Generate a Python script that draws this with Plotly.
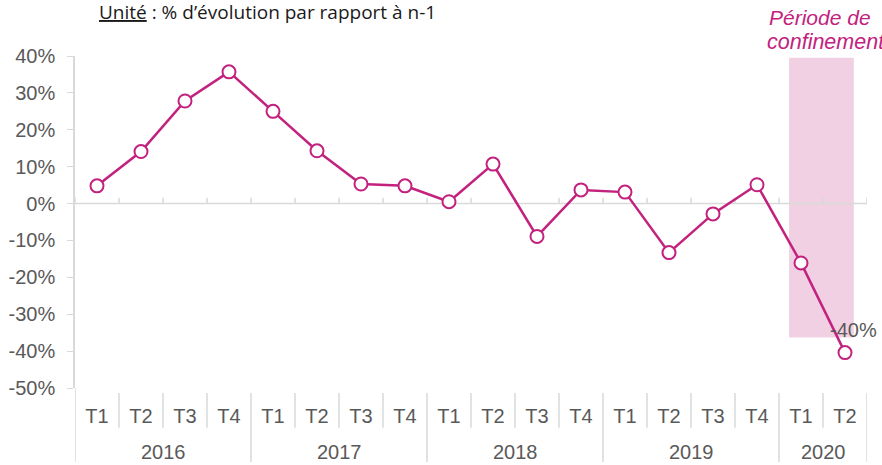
import plotly.graph_objects as go

YEARS = ["2016"] * 4 + ["2017"] * 4 + ["2018"] * 4 + ["2019"] * 4 + ["2020"] * 2
QUARTERS = ["T1", "T2", "T3", "T4"] * 4 + ["T1", "T2"]
EVOLUTION = [4.8, 14.1, 27.8, 35.7, 25.0, 14.3, 5.3, 4.8, 0.5, 10.7, -8.9, 3.7,
             3.1, -13.3, -2.8, 5.1, -16.1, -40.4]
Y_TICKS = [40, 30, 20, 10, 0, -10, -20, -30, -40, -50]

MAGENTA = "#c2227e"
GREY = "#595959"
AXIS = "#d9d9d9"
FONT = "Liberation Sans, Arial, sans-serif"

keys = [f"{y} {q}" for y, q in zip(YEARS, QUARTERS)]
n = len(keys)

fig = go.Figure()
fig.add_scatter(
    x=keys,
    y=EVOLUTION,
    mode="lines+markers",
    line=dict(color=MAGENTA, width=2.5),
    marker=dict(size=13, color="white", line=dict(color=MAGENTA, width=2)),
    showlegend=False,
)

# période de confinement
fig.add_shape(type="rect", xref="x", yref="y", x0=15.73, x1=17.2, y0=-36.3, y1=39.5,
              fillcolor="#f0d0e2", line_width=0, layer="below")
# axe horizontal à 0 avec graduations vers le haut
fig.add_shape(type="line", xref="x", yref="y", x0=-0.5, x1=n - 0.5, y0=0, y1=0,
              line=dict(color=AXIS, width=1.5), layer="below")
for i in range(n + 1):
    fig.add_shape(type="line", xref="x", yref="y", x0=i - 0.5, x1=i - 0.5, y0=0, y1=1.6,
                  line=dict(color=AXIS, width=1.5), layer="below")

# séparateurs de l'axe des catégories
groups = {}
for i, y in enumerate(YEARS):
    groups.setdefault(y, []).append(i)
year_edges = {g[-1] + 0.5 for g in groups.values()}
for i in range(n):
    edge = i + 0.5
    bottom = -0.223 if edge in year_edges else -0.12
    fig.add_shape(type="line", xref="x", yref="paper", x0=edge, x1=edge, y0=-0.015, y1=bottom,
                  line=dict(color=AXIS, width=1.5))
fig.add_shape(type="line", xref="x", yref="paper", x0=-0.5, x1=-0.5, y0=-0.223, y1=0,
              line=dict(color=AXIS, width=1.5))

for year, idx in groups.items():
    fig.add_annotation(x=sum(idx) / len(idx), y=-0.193, xref="x", yref="paper", yanchor="middle",
                       text=year, showarrow=False, font=dict(size=20, color=GREY, family=FONT))

fig.add_annotation(x=keys[-1], y=EVOLUTION[-1], text=f"{EVOLUTION[-1]:.0f}%", showarrow=False,
                   xshift=8, yshift=23, font=dict(size=20, color=GREY, family=FONT))
fig.add_annotation(x=0.8737, y=1.1145, xref="paper", yref="paper", xanchor="left", yanchor="middle",
                   text="<i>Période de</i>", showarrow=False,
                   font=dict(size=21, color=MAGENTA, family=FONT))
fig.add_annotation(x=0.8712, y=1.0422, xref="paper", yref="paper", xanchor="left", yanchor="middle",
                   text="<i>confinement</i>", showarrow=False,
                   font=dict(size=21.5, color=MAGENTA, family=FONT))
fig.add_annotation(x=0.0278, y=1.1325, xref="paper", yref="paper", xanchor="left", yanchor="middle",
                   text="<span style='text-decoration:underline'>Unité</span> : % d’évolution par rapport à n-1",
                   showarrow=False, font=dict(size=19, color="#1a1a1a", family="Open Sans, sans-serif"))

fig.update_xaxes(
    type="category", tickvals=keys, ticktext=QUARTERS, ticks="", showline=False,
    showgrid=False, zeroline=False, range=[-0.5, n - 0.5], ticklabelstandoff=14,
    automargin=False, tickfont=dict(size=20, color=GREY, family=FONT),
)
fig.update_yaxes(
    range=[-50, 40], tickvals=Y_TICKS, ticktext=[f"{v}%" for v in Y_TICKS],
    ticks="outside", ticklen=6, tickcolor=AXIS, showline=True, linecolor=AXIS,
    linewidth=1.5, showgrid=False, zeroline=False, ticklabelstandoff=8,
    automargin=False, tickfont=dict(size=20, color=GREY, family=FONT),
)
fig.update_layout(
    width=882, height=465, margin=dict(l=75, r=15, t=56, b=77),
    plot_bgcolor="white", paper_bgcolor="white",
)
# retire la marge par défaut de la page
fig.write_html("out.html", config={"displayModeBar": False},
               post_script="document.body.style.margin='0';")
